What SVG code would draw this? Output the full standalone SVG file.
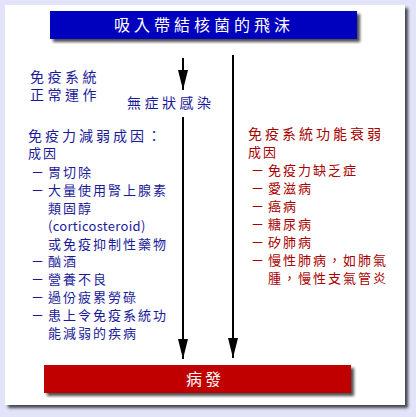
<svg xmlns="http://www.w3.org/2000/svg" width="416" height="417" viewBox="0 0 416 417">
<defs>
<filter id="sh" x="-5%" y="-5%" width="115%" height="120%">
<feGaussianBlur in="SourceAlpha" stdDeviation="1.5"/>
<feOffset dx="3" dy="3" result="b"/>
<feComponentTransfer><feFuncA type="linear" slope="0.7"/></feComponentTransfer>
<feMerge><feMergeNode/><feMergeNode in="SourceGraphic"/></feMerge>
</filter>
<marker id="ah" viewBox="0 0 20 10" refX="20" refY="5" markerWidth="20" markerHeight="10" markerUnits="userSpaceOnUse" orient="auto">
<path d="M0,0 L20,5 L0,10 Z" fill="#000"/>
</marker>
</defs>
<style>
.t{font-family:"Noto Sans CJK TC","Noto Sans CJK SC",sans-serif;}
.b{fill:#1a1a99;}
.r{fill:#a80000;}
.big{font-size:14px;letter-spacing:3.5px;}
.h{letter-spacing:3px;}
.sm{font-size:13px;letter-spacing:2px;}
.lat{letter-spacing:0.3px;}
.w{fill:#fff;}
</style>
<rect width="416" height="417" fill="#e2e2f8"/>
<rect x="5" y="5" width="400" height="400" fill="#fff" filter="url(#sh)"/>
<g id="title">
<rect x="50" y="11" width="307" height="28" fill="#0000bf" filter="url(#sh)"/>
<text class="t w" x="204" y="31" font-size="16" letter-spacing="4" text-anchor="middle">吸入帶結核菌的飛沫</text>
</g>
<g id="connectors" stroke="#000" stroke-width="2" fill="none">
<line x1="183" y1="58" x2="183" y2="90" marker-end="url(#ah)"/>
<line x1="233" y1="55" x2="233" y2="358" marker-end="url(#ah)"/>
<line x1="183" y1="117" x2="183" y2="359" marker-end="url(#ah)"/>
</g>
<g id="normal">
<text class="t b big" x="30" y="82">免疫系統</text>
<text class="t b big" x="30" y="100">正常運作</text>
</g>
<g id="latent">
<text class="t b big" x="127" y="108">無症狀感染</text>
</g>
<g id="weakened">
<text class="t b big h" x="28" y="141">免疫力減弱成因：</text>
<text class="t b sm" x="28" y="158">成因</text>
<text class="t b sm" x="31" y="177">－</text><text class="t b sm" x="48" y="177">胃切除</text>
<text class="t b sm" x="31" y="195">－</text><text class="t b sm" x="48" y="195">大量使用腎上腺素</text>
<text class="t b sm" x="48" y="213">類固醇</text>
<text class="t b sm lat" x="48" y="231">(corticosteroid)</text>
<text class="t b sm" x="48" y="249">或免疫抑制性藥物</text>
<text class="t b sm" x="31" y="266">－</text><text class="t b sm" x="48" y="266">酗酒</text>
<text class="t b sm" x="31" y="284">－</text><text class="t b sm" x="48" y="284">營養不良</text>
<text class="t b sm" x="31" y="302">－</text><text class="t b sm" x="48" y="302">過份疲累勞碌</text>
<text class="t b sm" x="31" y="320">－</text><text class="t b sm" x="48" y="320">患上令免疫系統功</text>
<text class="t b sm" x="48" y="338">能減弱的疾病</text>
</g>
<g id="failure">
<text class="t r big h" x="248" y="139">免疫系統功能衰弱</text>
<text class="t r sm" x="248" y="157">成因</text>
<text class="t r sm" x="251" y="175">－</text><text class="t r sm" x="268" y="175">免疫力缺乏症</text>
<text class="t r sm" x="251" y="193">－</text><text class="t r sm" x="268" y="193">愛滋病</text>
<text class="t r sm" x="251" y="211">－</text><text class="t r sm" x="268" y="211">癌病</text>
<text class="t r sm" x="251" y="229">－</text><text class="t r sm" x="268" y="229">糖尿病</text>
<text class="t r sm" x="251" y="247">－</text><text class="t r sm" x="268" y="247">矽肺病</text>
<text class="t r sm" x="251" y="265">－</text><text class="t r sm" x="268" y="265">慢性肺病，如肺氣</text>
<text class="t r sm" x="268" y="283">腫，慢性支氣管炎</text>
</g>
<g id="onset">
<rect x="44" y="365" width="307" height="28" fill="#c00000" filter="url(#sh)"/>
<text class="t w" x="205" y="385" font-size="16" letter-spacing="3" text-anchor="middle">病發</text>
</g>
</svg>
